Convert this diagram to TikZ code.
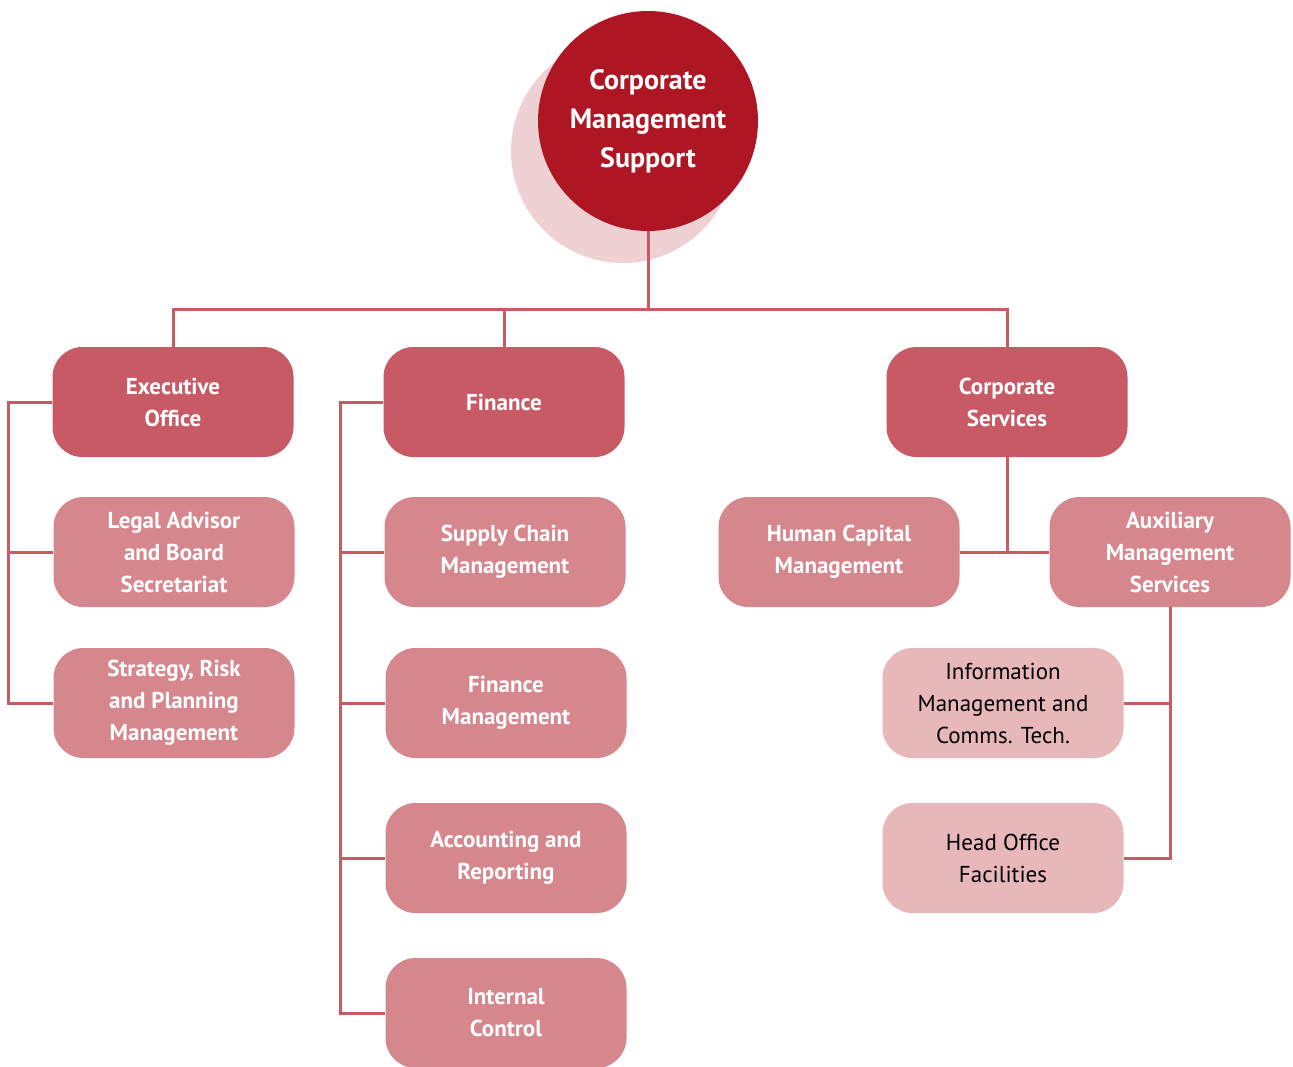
\documentclass[tikz,border=0pt]{standalone}
\usepackage{fontspec}
\setmainfont{PT Sans}
\definecolor{topred}{HTML}{AE1624}
\definecolor{haze}{HTML}{EFD1D4}
\definecolor{lvone}{HTML}{C75A64}
\definecolor{lvtwo}{HTML}{D6878E}
\definecolor{lvthree}{HTML}{E8B7BA}
\definecolor{linkred}{HTML}{C85A64}
\begin{document}
\begin{tikzpicture}[x=1pt,y=-1pt,
  box/.style={rounded corners=30pt, minimum width=241pt, minimum height=110pt,
    align=center, inner sep=0pt, font=\fontsize{23}{32}\selectfont\bfseries, text=white},
  unitbox/.style={box, fill=lvone},
  subbox/.style={box, fill=lvtwo},
  leafbox/.style={box, fill=lvthree, text=black, font=\fontsize{23}{32}\selectfont},
  link/.style={draw=linkred, line width=3pt}]
\clip (0,0) rectangle (1293,1066);
\fill[white] (0,0) rectangle (1293,1066);

% head of the chart
\fill[haze] (623,151) circle (112pt);
\node[circle, fill=topred, minimum size=220pt, inner sep=0pt, align=center,
  text=white, font=\fontsize{28}{39}\selectfont\bfseries] (top) at (648,121)
  {Corporate\\Management\\Support};

% first level units
\node[unitbox] (exec) at (173,402) {Executive\\Office};
\node[unitbox] (fin) at (504,402) {Finance};
\node[unitbox] (corp) at (1007,402) {Corporate\\Services};

% Executive Office branch
\node[subbox] (legal) at (174,552) {Legal Advisor\\and Board\\Secretariat};
\node[subbox] (strat) at (174,703) {Strategy, Risk\\and Planning\\Management};

% Finance branch
\node[subbox] (supply) at (505,552) {Supply Chain\\Management};
\node[subbox] (finman) at (506,703) {Finance\\Management};
\node[subbox] (acct) at (506,858) {Accounting and\\Reporting};
\node[subbox] (ictrl) at (506,1013) {Internal\\Control};

% Corporate Services branch
\node[subbox] (hcm) at (839,552) {Human Capital\\Management};
\node[subbox] (ams) at (1170,552) {Auxiliary\\Management\\Services};
\node[leafbox] (imct) at (1003,703) {Information\\Management and\\Comms. Tech.};
\node[leafbox] (hof) at (1003,858) {Head Office\\Facilities};

% junction points of the connector buses
\coordinate (hub) at (648,309);
\coordinate (ebus) at (8,402);
\coordinate (fbus) at (340,402);

% connectors
\draw[link] (top.south) -- (hub);
\draw[link] (exec.north) |- (hub) -| (corp.north);
\draw[link] (fin.north) -- (fin.north |- hub);

\draw[link] (exec.west) -- (ebus) |- (strat.west);
\draw[link] (legal.west) -- (legal.west -| ebus);

\draw[link] (fin.west) -- (fbus) |- (ictrl.west);
\draw[link] (supply.west) -- (supply.west -| fbus);
\draw[link] (finman.west) -- (finman.west -| fbus);
\draw[link] (acct.west) -- (acct.west -| fbus);

\draw[link] (corp.south) -- (corp.south |- hcm.east);
\draw[link] (hcm.east) -- (ams.west);

\draw[link] (ams.south) |- (hof.east);
\draw[link] (imct.east) -- (imct.east -| ams.south);
\end{tikzpicture}
\end{document}
